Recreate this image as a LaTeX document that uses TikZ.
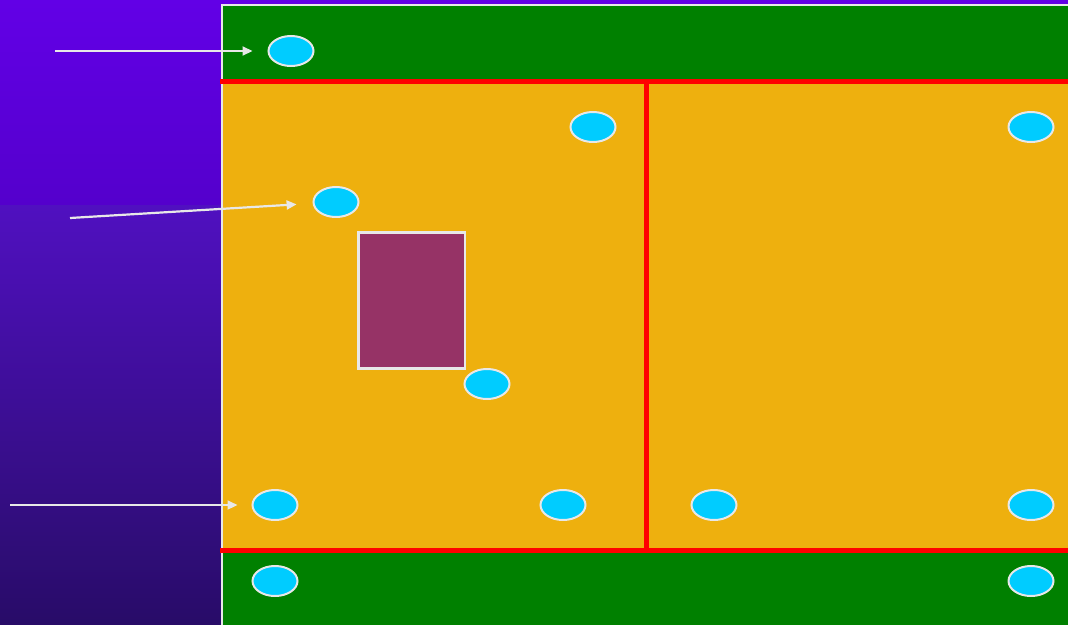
\documentclass[tikz,border=0pt]{standalone}
\usepackage{tikz}
\usetikzlibrary{arrows.meta,shapes.geometric}
\definecolor{skyA}{RGB}{98,0,230}
\definecolor{skyB}{RGB}{84,0,204}
\definecolor{skyC}{RGB}{80,16,192}
\definecolor{skyD}{RGB}{40,12,104}
\definecolor{pcbgreen}{RGB}{0,128,0}
\definecolor{coreorange}{RGB}{238,176,14}
\definecolor{padcyan}{RGB}{0,204,255}
\definecolor{chipred}{RGB}{150,51,102}
\definecolor{lineg}{RGB}{232,232,232}
\tikzset{
  x=1pt,y=-1pt,
  pad/.style={ellipse,draw=lineg,line width=2pt,fill=padcyan,
    minimum width=45pt,minimum height=30pt,inner sep=0pt},
  frame/.style={draw=lineg,line width=2.2pt},
  plane/.style={red,line width=4.2pt},
  callout/.style={-{Triangle[length=10pt,width=9pt]},draw=lineg,
    line width=2.2pt,shorten >=14pt},
  chip/.style={draw=lineg,line width=2.2pt,fill=chipred},
}
\begin{document}
\begin{tikzpicture}
  \useasboundingbox (0,0) rectangle (1068,624);
  \clip (0,0) rectangle (1068,624);
  \shade[top color=skyA,bottom color=skyB] (0,0) rectangle (1068,205);
  \shade[top color=skyC,bottom color=skyD] (0,205) rectangle (1068,624);
  \fill[pcbgreen] (222,5) rectangle (1080,82);
  \fill[coreorange] (222,82) rectangle (1080,550);
  \fill[pcbgreen] (222,550) rectangle (1080,640);
  \draw[frame] (222,640) -- (222,5) -- (1080,5);
  \draw[plane] (220,81.5) -- (1080,81.5);
  \draw[plane] (220,550.5) -- (1080,550.5);
  \draw[plane,line width=5pt] (646.5,81.5) -- (646.5,550.5);
  \draw[chip] (358.5,232.5) rectangle (465,368.5);

  \node[pad] (top) at (291,51) {};
  \node[pad] (inA) at (593,127) {};
  \node[pad] (inB) at (1031,127) {};
  \node[pad] (via) at (336,202) {};
  \node[pad] (chipv) at (487,384) {};
  \node[pad] (botA) at (275,505) {};
  \node[pad] (botB) at (563,505) {};
  \node[pad] (botC) at (714,505) {};
  \node[pad] (botD) at (1031,505) {};
  \node[pad] (outA) at (275,581) {};
  \node[pad] (outB) at (1031,581) {};

  \coordinate (l1) at (55,51);
  \coordinate (l2) at (70,218);
  \coordinate (l3) at (10,505);
  \draw[callout,shorten >=15pt] (l1) -- (top);
  \draw[callout,shorten >=16pt] (l2) -- (via);
  \draw[callout] (l3) -- (botA);
\end{tikzpicture}
\end{document}
